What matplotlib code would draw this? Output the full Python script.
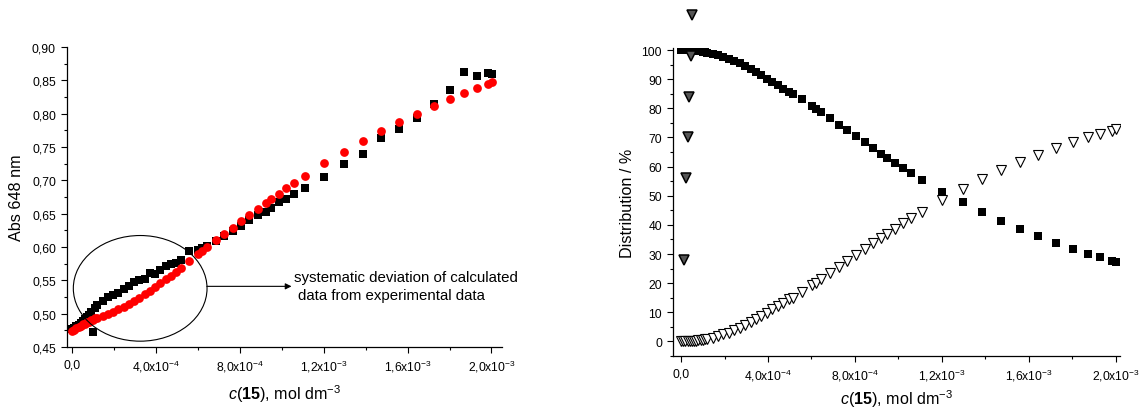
""" Abs 648 nm titration fit and species distribution vs c(15)
"""

import numpy as np
import matplotlib
matplotlib.use('Agg')
import matplotlib.pyplot as plt
from matplotlib.patches import Ellipse
from matplotlib.ticker import FuncFormatter, MultipleLocator

plt.rcParams['font.family'] = ['Liberation Sans', 'DejaVu Sans']
plt.rcParams['mathtext.fontset'] = 'custom'
plt.rcParams['mathtext.rm'] = 'Liberation Sans'
plt.rcParams['mathtext.it'] = 'Liberation Sans:italic'
plt.rcParams['mathtext.bf'] = 'Liberation Sans:bold'

# c(15) in units of 1e-4 mol dm-3
c_e4 = [0.0, 0.1, 0.2, 0.3, 0.4, 0.5, 0.6, 0.7, 0.8, 0.9, 1.0, 1.1, 1.2,
        1.45, 1.7, 1.95, 2.2, 2.45, 2.7, 2.95, 3.2, 3.45, 3.7, 3.95, 4.2,
        4.45, 4.7, 4.95, 5.17, 5.57, 6.01, 6.2, 6.45, 6.85, 7.25, 7.65,
        8.05, 8.44, 8.84, 9.22, 9.48, 9.86, 10.22, 10.6, 11.08, 12.0, 12.97,
        13.85, 14.73, 15.6, 16.43, 17.26, 18.04, 18.71, 19.3, 19.85, 20.03]

abs_exp = [0.477, 0.479, 0.481, 0.483, 0.486, 0.489, 0.492, 0.495, 0.498,
           0.502, 0.473, 0.509, 0.513, 0.519, 0.525, 0.528, 0.531, 0.537,
           0.542, 0.547, 0.550, 0.552, 0.561, 0.560, 0.566, 0.571, 0.574,
           0.576, 0.580, 0.594, 0.596, 0.598, 0.601, 0.609, 0.616, 0.624,
           0.632, 0.640, 0.648, 0.653, 0.658, 0.667, 0.672, 0.679, 0.689,
           0.705, 0.724, 0.739, 0.763, 0.777, 0.793, 0.814, 0.835, 0.863,
           0.856, 0.861, 0.859]

abs_calc = [0.474, 0.476, 0.478, 0.480, 0.482, 0.484, 0.485, 0.487, 0.488,
            0.490, 0.491, 0.493, 0.494, 0.497, 0.500, 0.503, 0.507, 0.510,
            0.514, 0.519, 0.524, 0.529, 0.534, 0.540, 0.546, 0.552, 0.557,
            0.563, 0.569, 0.579, 0.589, 0.594, 0.600, 0.610, 0.620, 0.629,
            0.639, 0.648, 0.657, 0.666, 0.672, 0.680, 0.688, 0.696, 0.707,
            0.726, 0.743, 0.759, 0.774, 0.788, 0.800, 0.812, 0.822, 0.831,
            0.838, 0.844, 0.847]

dist_free = [100, 100, 100, 100, 99.9, 99.9, 99.8, 99.7, 99.6, 99.5, 99.4,
             99.2, 99.1, 98.7, 98.2, 97.6, 97.0, 96.2, 95.4, 94.5, 93.5,
             92.4, 91.3, 90.2, 89.0, 87.9, 86.7, 85.6, 85.0, 83.1, 80.7,
             79.8, 78.6, 76.5, 74.4, 72.4, 70.4, 68.4, 66.3, 64.4, 63.0,
             61.3, 59.4, 57.7, 55.5, 51.4, 47.7, 44.3, 41.2, 38.6, 36.1,
             33.7, 31.7, 30.0, 28.9, 27.7, 27.2]

dist_complex = [0.0, 0.0, 0.0, 0.0, 0.1, 0.1, 0.2, 0.3, 0.4, 0.5, 0.6, 0.8,
                0.9, 1.3, 1.8, 2.4, 3.0, 3.8, 4.6, 5.5, 6.5, 7.6, 8.7, 9.8,
                11.0, 12.1, 13.3, 14.4, 15.0, 16.9, 19.3, 20.2, 21.4, 23.5,
                25.6, 27.6, 29.6, 31.6, 33.7, 35.6, 37.0, 38.7, 40.6, 42.3,
                44.5, 48.6, 52.3, 55.7, 58.8, 61.4, 63.9, 66.3, 68.3, 70.0,
                71.1, 72.3, 72.8]

# stray points near c = 0 in the distribution plot
stray_c_e4 = [0.14, 0.23, 0.32, 0.37, 0.46, 0.51]
stray_dist = [28, 56, 70, 84, 98, 112]

c = np.array(c_e4) * 1e-4
stray_c = np.array(stray_c_e4) * 1e-4

XLABEL = r'$\it{c}$($\bf{15}$), mol dm$^{-3}$'


def sci_fmt(v, pos):
    if abs(v) < 1e-12:
        return '0,0'
    exp = int(np.floor(np.log10(abs(v)) + 1e-9))
    mant = v / 10**exp
    return '{:.1f}x10$^{{{}}}$'.format(mant, exp).replace('.', ',')


def style_axes(ax):
    ax.spines['top'].set_visible(False)
    ax.spines['right'].set_visible(False)
    ax.tick_params(which='both', direction='out', labelsize=8.7, width=0.8)
    ax.tick_params(which='major', length=4.5)
    ax.tick_params(which='minor', length=2.5)
    ax.xaxis.set_major_locator(MultipleLocator(4e-4))
    ax.xaxis.set_minor_locator(MultipleLocator(2e-4))
    ax.xaxis.set_major_formatter(FuncFormatter(sci_fmt))
    for s in ('left', 'bottom'):
        ax.spines[s].set_linewidth(0.9)


fig = plt.figure(figsize=(11.4, 4.14), dpi=100)

# left: absorbance
ax1 = fig.add_axes([0.0588, 0.1594, 0.3815, 0.7246])
ax1.plot(c, abs_exp, 's', color='black', markersize=5.8, markeredgewidth=0,
         zorder=3)
ax1.plot(c, abs_calc, 'o', color='#ff0000', markersize=6.3,
         markeredgewidth=0, zorder=4)
ax1.set_xlim(-0.25e-4, 2.05e-3)
ax1.set_ylim(0.45, 0.90)
ax1.yaxis.set_major_locator(MultipleLocator(0.05))
ax1.yaxis.set_minor_locator(MultipleLocator(0.025))
ax1.yaxis.set_major_formatter(
    FuncFormatter(lambda v, p: '{:.2f}'.format(v).replace('.', ',')))
style_axes(ax1)
ax1.set_ylabel('Abs 648 nm', fontsize=11.6, labelpad=6)
ax1.set_xlabel(XLABEL, fontsize=11.6, labelpad=6)

ax1.add_patch(Ellipse((3.24e-4, 0.538), 6.38e-4, 0.1585, fill=False,
                      edgecolor='black', linewidth=0.8, zorder=5))
ax1.annotate('', xy=(10.46e-4, 0.541), xytext=(6.42e-4, 0.541),
             arrowprops=dict(arrowstyle='-|>', color='black', lw=0.8,
                             mutation_scale=9, shrinkA=0, shrinkB=0))
ax1.text(10.57e-4, 0.555, 'systematic deviation of calculated',
         fontsize=10.8, va='center', ha='left', clip_on=False)
ax1.text(10.76e-4, 0.528, 'data from experimental data',
         fontsize=10.8, va='center', ha='left', clip_on=False)

# right: species distribution
ax2 = fig.add_axes([0.5904, 0.1377, 0.3921, 0.7440])
ax2.plot(c, dist_free, 's', color='black', markersize=6,
         markeredgewidth=0, zorder=3)
ax2.plot(c, dist_complex, 'v', markerfacecolor='white',
         markeredgecolor='black', markersize=7, markeredgewidth=0.8,
         zorder=4)
ax2.plot(stray_c, stray_dist, 'v', markerfacecolor='#555555',
         markeredgecolor='black', markersize=6.5, markeredgewidth=1.1,
         zorder=4, clip_on=False)
ax2.set_xlim(-0.37e-4, 2.02e-3)
ax2.set_ylim(-5, 100.7)
ax2.yaxis.set_major_locator(MultipleLocator(10))
ax2.yaxis.set_minor_locator(MultipleLocator(5))
style_axes(ax2)
ax2.set_ylabel('Distribution / %', fontsize=11.6, labelpad=5)
ax2.set_xlabel(XLABEL, fontsize=11.6, labelpad=3)

fig.savefig('out.png', dpi=100)
